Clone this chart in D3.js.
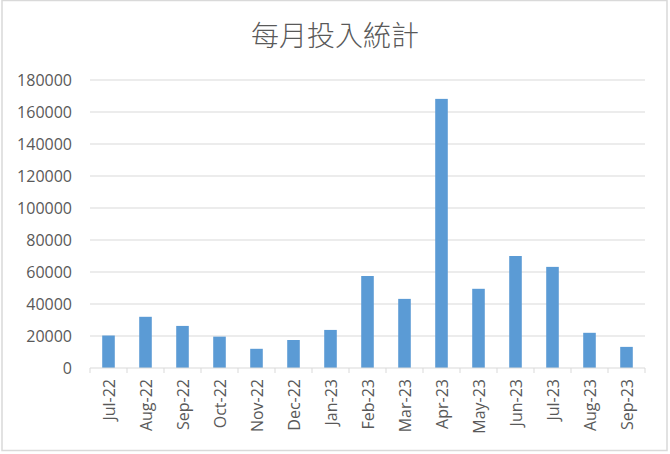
<!DOCTYPE html>
<html>
<head>
<meta charset="utf-8">
<script src="https://cdn.jsdelivr.net/npm/d3@7"></script>
<style>
  body { margin: 0; background: #fff; }
  #chart { width: 670px; height: 454px; }
</style>
</head>
<body>
<div id="chart"></div>
<script>
const months = ["Jul-22", "Aug-22", "Sep-22", "Oct-22", "Nov-22", "Dec-22", "Jan-23",
  "Feb-23", "Mar-23", "Apr-23", "May-23", "Jun-23", "Jul-23", "Aug-23", "Sep-23"];
const amounts = [20300, 32000, 26300, 19600, 12000, 17500, 23800,
  57500, 43200, 168200, 49500, 70000, 63200, 22000, 13200];
const yTicks = [0, 20000, 40000, 60000, 80000, 100000, 120000, 140000, 160000, 180000];
const chartTitle = "每月投入統計";

const width = 670, height = 454;
const margin = { top: 80, right: 25, bottom: 86, left: 90 };

const svg = d3.select("#chart").append("svg")
  .attr("width", width)
  .attr("height", height);

// outer chart border
svg.append("rect")
  .attr("x", 2).attr("y", 0.5)
  .attr("width", 665).attr("height", 450)
  .attr("fill", "#fff")
  .attr("stroke", "#d9d9d9")
  .attr("stroke-width", 1.5);

const x = d3.scaleBand()
  .domain(months)
  .range([margin.left, width - margin.right])
  .paddingInner(0.66)
  .paddingOuter(0.33);

const y = d3.scaleLinear()
  .domain([0, 180000])
  .range([height - margin.bottom, margin.top]);

// gridlines
svg.append("g")
  .selectAll("line")
  .data(yTicks.filter(d => d > 0))
  .enter().append("line")
  .attr("x1", margin.left)
  .attr("x2", width - margin.right)
  .attr("y1", d => y(d))
  .attr("y2", d => y(d))
  .attr("stroke", "#d9d9d9")
  .attr("stroke-width", 1);

// bars
svg.append("g")
  .selectAll("rect")
  .data(months)
  .enter().append("rect")
  .attr("x", (d, i) => x(d))
  .attr("y", (d, i) => y(amounts[i]))
  .attr("width", x.bandwidth())
  .attr("height", (d, i) => y(0) - y(amounts[i]))
  .attr("fill", "#5b9bd5");

// y axis labels
const yAxis = svg.append("g")
  .attr("transform", "translate(" + (margin.left - 15) + ",0)")
  .call(d3.axisLeft(y).tickValues(yTicks).tickSize(0).tickFormat(d3.format("d")));
yAxis.select(".domain").remove();
yAxis.selectAll("text")
  .attr("fill", "#595959")
  .style("font-family", "'Open Sans', 'DejaVu Sans', sans-serif")
  .style("font-size", "16px");

// x axis: baseline with ticks at band edges
const edges = d3.range(months.length + 1).map(i => margin.left + i * (width - margin.left - margin.right) / months.length);
const xAxis = svg.append("g");
xAxis.append("line")
  .attr("x1", margin.left).attr("x2", width - margin.right)
  .attr("y1", y(0)).attr("y2", y(0))
  .attr("stroke", "#d9d9d9");
xAxis.selectAll("line.tick")
  .data(edges)
  .enter().append("line")
  .attr("class", "tick")
  .attr("x1", d => d).attr("x2", d => d)
  .attr("y1", y(0)).attr("y2", y(0) + 5)
  .attr("stroke", "#d9d9d9");

xAxis.selectAll("text")
  .data(months)
  .enter().append("text")
  .attr("transform", d => "translate(" + (x(d) + x.bandwidth() / 2 + 6) + "," + (y(0) + 11) + ") rotate(-90)")
  .attr("text-anchor", "end")
  .attr("fill", "#595959")
  .style("font-family", "'Open Sans', 'DejaVu Sans', sans-serif")
  .style("font-size", "16px")
  .text(d => d);

// title
svg.append("text")
  .attr("x", width / 2)
  .attr("y", 46)
  .attr("text-anchor", "middle")
  .attr("fill", "#595959")
  .style("font-family", "'Noto Sans CJK TC', 'Noto Sans CJK SC', sans-serif")
  .style("font-weight", "300")
  .style("font-size", "28px")
  .text(chartTitle);
</script>
</body>
</html>
